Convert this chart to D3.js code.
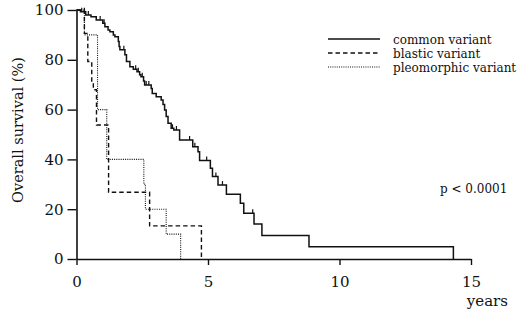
<!DOCTYPE html>
<html>
<head>
<meta charset="utf-8">
<script src="https://cdn.jsdelivr.net/npm/d3@7"></script>
<style>
  body { margin: 0; background: #fff; }
  svg { display: block; }
  text { font-family: "DejaVu Serif", serif; fill: #111; }
</style>
</head>
<body>
<div id="chart"></div>
<script>
// step curves: time (years) where survival drops, and survival (%) after it
const commonTimes = [0, 0.15, 0.35, 0.55, 0.75, 1.0, 1.08, 1.2, 1.27, 1.4, 1.46, 1.59, 1.62, 1.65, 1.84, 1.9, 2.03, 2.16, 2.3, 2.4, 2.45, 2.55, 2.59, 2.84, 2.88, 3.03, 3.22, 3.29, 3.35, 3.41, 3.48, 3.6, 3.7, 3.92, 4.42, 4.62, 4.68, 5.09, 5.17, 5.38, 5.7, 6.23, 6.36, 6.75, 7.05, 8.84, 14.33];
const commonSurv  = [100, 99.3, 98, 97.3, 96, 94.7, 93.3, 92, 91.3, 90, 89.3, 87.3, 85.3, 84, 82, 79.3, 77.2, 76.2, 75.2, 74, 73.2, 71.5, 69.9, 68.5, 66.5, 65.2, 63.9, 62, 59.8, 57.2, 54.5, 52.5, 51.8, 47.8, 45.1, 43.1, 39.6, 36.4, 33.1, 29.7, 26, 22.4, 18.4, 14.1, 9.4, 4.9, 0];
const commonCensored = [0.2, 0.3, 0.45, 0.9, 1.05, 1.8, 2.25, 2.35, 2.5, 2.65, 2.75, 3.65, 3.8, 4.3, 4.5, 4.95, 5.3, 5.55, 6.7];

const blasticTimes = [0, 0.3, 0.43, 0.58, 0.64, 0.76, 1.22, 2.78, 4.75];
const blasticSurv  = [100, 90.6, 79.3, 71, 68, 53.8, 26.8, 13.3, 0];

const pleoTimes = [0, 0.3, 0.8, 1.15, 2.56, 2.62, 3.41, 3.96];
const pleoSurv  = [100, 90, 60, 40, 30, 20, 10, 0];

const yTicks = [0, 20, 40, 60, 80, 100];
const xTicks = [0, 5, 10, 15];

const legendLabels = ["common variant", "blastic variant", "pleomorphic variant"];
const dashes = [null, "4.5,3", "1,1.2"];

const width = 520, height = 315;

const svg = d3.select("#chart").append("svg")
    .attr("width", width)
    .attr("height", height);

const x = d3.scaleLinear().domain([0, 15]).range([76.5, 471]);
const y = d3.scaleLinear().domain([0, 100]).range([259, 10]);

// axes
const yAxis = svg.append("g")
    .attr("transform", "translate(" + x(0) + ",0)")
    .call(d3.axisLeft(y).tickValues(yTicks).tickSize(9).tickSizeOuter(0).tickPadding(4));

const xAxis = svg.append("g")
    .attr("transform", "translate(0," + y(0) + ")")
    .call(d3.axisBottom(x).tickValues(xTicks).tickSize(6).tickSizeOuter(0).tickPadding(11));

[yAxis, xAxis].forEach(g => {
    g.select(".domain").attr("stroke", "#111").attr("stroke-width", 1.6);
    g.selectAll(".tick line").attr("stroke", "#111").attr("stroke-width", 1.4);
    g.selectAll(".tick text")
        .attr("fill", "#111")
        .style("font-family", "DejaVu Serif")
        .style("font-size", "15px");
});

// axis titles
svg.append("text")
    .attr("transform", "translate(23,130) rotate(-90)")
    .attr("text-anchor", "middle")
    .style("font-size", "14.5px")
    .text("Overall survival (%)");

svg.append("text")
    .attr("x", 508)
    .attr("y", 306)
    .attr("text-anchor", "end")
    .style("font-size", "15px")
    .text("years");

svg.append("text")
    .attr("x", 440)
    .attr("y", 193)
    .style("font-size", "12px")
    .text("p < 0.0001");

// curves
const line = d3.line()
    .x(d => x(d[0]))
    .y(d => y(d[1]))
    .curve(d3.curveStepAfter);

const series = [
    d3.zip(commonTimes, commonSurv),
    d3.zip(blasticTimes, blasticSurv),
    d3.zip(pleoTimes, pleoSurv)
];
const widths = [1.5, 1.4, 1.1];

series.forEach((pts, i) => {
    svg.append("path")
        .datum(pts)
        .attr("d", line)
        .attr("fill", "none")
        .attr("stroke", "#111")
        .attr("stroke-width", widths[i])
        .attr("stroke-dasharray", dashes[i]);
});

// censoring ticks on the common curve
function survAt(t) {
    let s = 100;
    commonTimes.forEach((tt, i) => { if (tt <= t) s = commonSurv[i]; });
    return s;
}

svg.selectAll(".censor")
    .data(commonCensored)
    .enter()
    .append("line")
    .attr("class", "censor")
    .attr("x1", d => x(d))
    .attr("x2", d => x(d))
    .attr("y1", d => y(survAt(d)))
    .attr("y2", d => y(survAt(d)) - 4)
    .attr("stroke", "#111")
    .attr("stroke-width", 1.2);

// legend
const legend = svg.selectAll(".legend")
    .data(legendLabels)
    .enter()
    .append("g")
    .attr("class", "legend")
    .attr("transform", (d, i) => "translate(0," + (39 + i * 14) + ")");

legend.append("line")
    .attr("x1", 328)
    .attr("x2", 380)
    .attr("stroke", "#111")
    .attr("stroke-width", (d, i) => widths[i])
    .attr("stroke-dasharray", (d, i) => dashes[i]);

legend.append("text")
    .attr("x", 393)
    .attr("y", 4.5)
    .style("font-size", "12px")
    .text(d => d);
</script>
</body>
</html>
